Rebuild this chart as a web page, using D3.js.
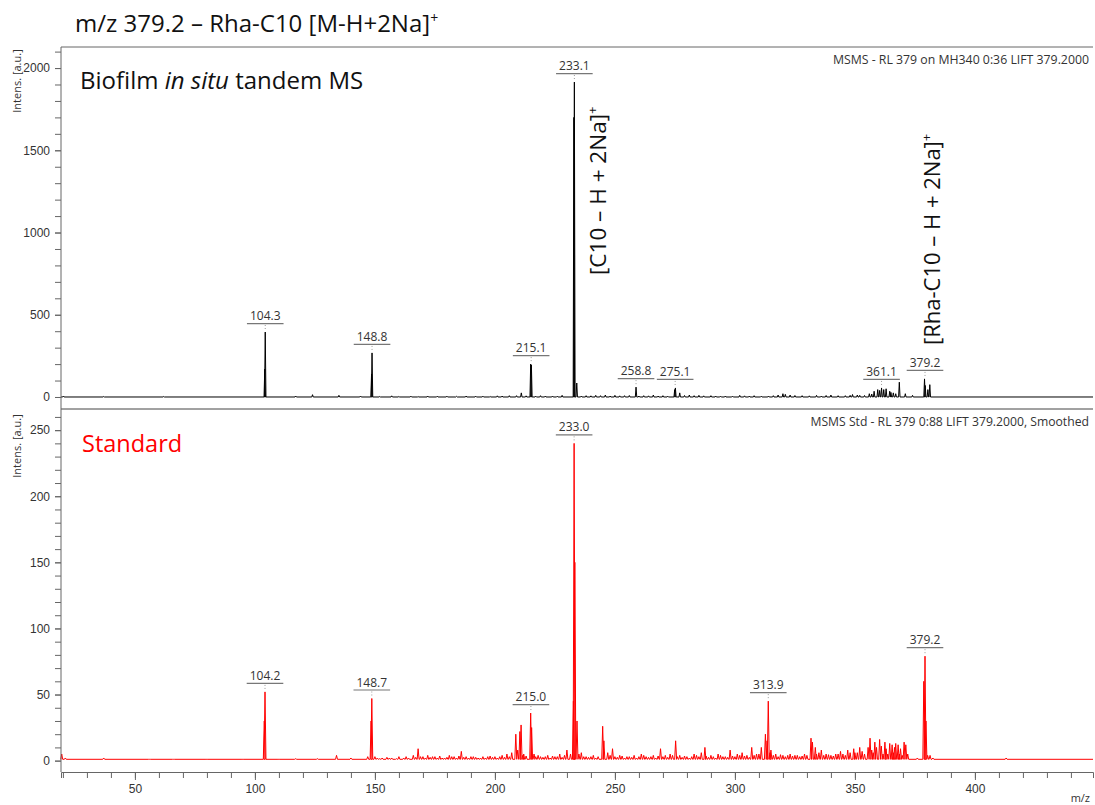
<!DOCTYPE html>
<html>
<head>
<meta charset="utf-8">
<script src="https://cdn.jsdelivr.net/npm/d3@7"></script>
<style>
  body { margin: 0; background: #fff; }
  svg { display: block; font-family: "Open Sans", sans-serif; }
</style>
</head>
<body>
<svg id="chart" width="1095" height="805"></svg>
<script>
// biofilm spectrum: peak m/z and intensity (a.u.)
var biofilmMz = [20.2, 37, 62, 104.1, 104.3, 117, 124, 135, 144, 148.6, 148.8, 157, 165, 172, 180, 188, 195, 201, 206, 209, 211,
  214.9, 215.2, 219, 224, 228, 232.9, 233.1, 234.1, 238, 242, 246, 250, 254, 258.8, 262, 266, 270, 274.9, 275.2, 277, 281, 285,
  290, 296, 302, 308, 314, 320, 323, 328, 334, 340, 346, 349, 352, 356, 358, 359.5, 360.3, 361.1, 362, 363, 364.5, 366, 368.5,
  371, 374, 379.0, 379.3, 380.4, 381.2]
var biofilmInt = [6, 3, 3, 170, 395, 6, 14, 10, 6, 140, 268, 7, 5, 6, 5, 6, 5, 7, 8, 8, 25,
  200, 195, 8, 6, 10, 1700, 1915, 85, 8, 10, 12, 10, 8, 60, 8, 12, 8, 45, 55, 25, 12, 10,
  8, 6, 10, 8, 6, 20, 12, 8, 10, 12, 8, 15, 10, 20, 35, 45, 40, 55, 45, 50, 35, 25, 90,
  20, 10, 110, 70, 45, 75]
// small baseline wiggles of the biofilm trace
var biofilmNoiseMz = [152, 160, 168, 176, 184, 192, 198, 203, 213, 217, 221, 226, 236, 240, 244, 248, 252, 256, 260, 264,
  268, 272, 279, 283, 287, 292, 294, 299, 304, 306, 311, 316, 318, 321, 325, 331, 336, 338, 343, 348, 351, 354, 357, 365, 367]
var biofilmNoiseInt = [3, 4, 3, 5, 4, 5, 4, 6, 7, 5, 6, 5, 6, 7, 8, 6, 7, 9, 6, 7,
  6, 5, 9, 8, 7, 6, 5, 5, 7, 6, 5, 8, 12, 16, 9, 7, 6, 9, 8, 10, 12, 9, 18, 28, 20]

// standard spectrum
var standardMz = [19.5, 21, 37, 56, 66, 80, 95, 103.9, 104.2, 110, 117, 126, 134, 140, 147, 148.4, 148.7, 150, 153, 157, 160,
  164, 166, 168, 170, 172, 175, 178, 181, 183, 186, 188, 191, 194, 197, 200, 203, 205, 207, 208.7, 209.5, 210.4, 210.9, 212,
  214.9, 215.3, 216.3, 219, 222, 225, 227, 230, 231.5, 232.7, 233.0, 233.3, 234.2, 235, 238, 241, 243, 244.9, 245.4, 247, 249,
  252, 255, 258, 261, 263, 266, 269, 271, 273, 275.3, 277, 280, 283, 286, 287.5, 290, 293, 295, 298, 301, 303, 305, 307, 309,
  311, 312.7, 313.4, 313.9, 315, 317, 320, 323, 326, 329, 331.7, 332.3, 333.5, 335, 336, 338, 340, 342, 344, 345, 347, 348,
  349.5, 351, 352, 353, 355.5, 356.3, 357, 358.3, 359, 360.3, 361, 362.5, 363, 364.5, 365.5, 366.5, 367, 368, 369, 370.5,
  371.2, 372, 376, 378.7, 379.2, 379.6, 380.3, 381.3, 382.5, 413]
var standardInt = [5, 2, 2, 1, 1, 1, 1, 30, 52, 1, 1.5, 1.5, 4, 2, 3, 30, 47, 3, 2, 2, 3,
  2, 4, 9, 3, 4, 3, 2, 4, 3, 7, 3, 3, 2, 3, 3, 4, 5, 6, 20, 8, 22, 27, 5,
  36, 25, 5, 3, 4, 3, 5, 8, 5, 45, 240, 150, 30, 5, 3, 4, 3, 26, 15, 6, 9,
  4, 3, 4, 5, 3, 4, 9, 4, 5, 15, 4, 3, 5, 6, 10, 4, 5, 3, 8, 5, 6, 4, 10, 5,
  10, 20, 15, 45, 8, 5, 4, 5, 4, 5, 17, 14, 10, 6, 8, 5, 4, 5, 7, 5, 8, 6,
  9, 6, 10, 7, 10, 17, 8, 14, 10, 16, 11, 14, 9, 13, 12, 10, 13, 12, 9, 14,
  12, 5, 2, 60, 79, 30, 4, 4, 2, 2]
// noise floor of the standard trace
var standardNoiseMz = [151, 152, 155, 156, 159, 162, 163, 167, 169, 171, 173, 174, 176, 177, 179, 180, 182, 184, 185, 187,
  189, 190, 192, 193, 195, 196, 198, 199, 201, 202, 204, 206, 211.6, 213, 217, 218, 220, 221, 223, 224, 226, 228, 229, 236,
  237, 239, 240, 242, 248, 250, 251, 253, 254, 256, 257, 259, 260, 262, 264, 265, 267, 268, 270, 272, 274, 276, 278, 279,
  281, 282, 284, 285, 288, 289, 291, 292, 294, 296, 297, 299, 300, 302, 304, 306, 308, 310, 314.6, 316, 318, 319, 321, 322,
  324, 325, 327, 328, 330, 334, 337, 339, 341, 343, 346, 350, 354, 357.6, 361.7, 363.7, 366, 368.5, 369.7]
var standardNoiseInt = [2, 1.5, 2.5, 2, 1.5, 2, 3, 2.5, 3, 2, 2.5, 3, 2, 3.5, 2, 2.5, 3, 2, 3.5, 2.5,
  2, 3, 2.5, 2, 3, 2, 3.5, 2.5, 2, 3, 2.5, 3, 4, 3.5, 3, 4, 2.5, 3, 2, 3.5, 3, 2.5, 4, 6,
  3, 2.5, 3, 2, 4, 3, 2.5, 3.5, 2, 3, 2.5, 2, 3, 4, 2.5, 3, 2, 3.5, 3, 2.5, 4, 3, 2.5, 3.5,
  2, 3, 4, 3, 3.5, 2.5, 3, 2, 4, 3, 2.5, 3.5, 3, 4, 3.5, 2.5, 4, 5, 6, 4, 3, 4.5, 3, 4,
  3.5, 4, 3, 3.5, 4, 5, 4, 4.5, 3.5, 5, 4, 6, 5, 6, 5, 5, 6, 5, 4]

var biofilmLabels = [104.3, 148.8, 215.1, 233.1, 258.8, 275.1, 361.1, 379.2]
var standardLabels = [104.2, 148.7, 215.0, 233.0, 313.9, 379.2]

var biofilmTicks = [0, 500, 1000, 1500, 2000]
var standardTicks = [0, 50, 100, 150, 200, 250]
var mzTicks = [50, 100, 150, 200, 250, 300, 350, 400]

var svg = d3.select("#chart")
var left = 61, right = 1093

var x = d3.scaleLinear().domain([19.2, 449.2]).range([left, right])
var yTop = d3.scaleLinear().domain([-73, 2128]).range([409, 47])
var yBot = d3.scaleLinear().domain([-8.6, 266]).range([772, 409])

var axisColor = "#666", textColor = "#333"

// turn stick lists into a thin peak profile
var profile = function(mz, ints, base, w){
  var pts = []
  mz.forEach(function(m, i){
    pts.push({m: m, h: ints[i]})
  })
  pts.sort(function(a, b){ return a.m - b.m })
  var out = [[19.2, base]]
  pts.forEach(function(p){
    out.push([p.m - w, base], [p.m, p.h], [p.m + w, base])
  })
  out.push([449.2, base])
  return out
}

var drawPanel = function(y, mz, ints, base, w, color, majors, minorStep, maxTick){
  var minors = d3.range(0, maxTick + 1, minorStep)
  svg.append("g")
    .attr("transform", "translate(" + left + ",0)")
    .call(d3.axisLeft(y).tickValues(minors).tickSize(6).tickFormat(""))
    .call(function(g){ g.select(".domain").remove() })
    .selectAll("line").attr("stroke", axisColor)
  svg.append("g")
    .attr("transform", "translate(" + left + ",0)")
    .call(d3.axisLeft(y).tickValues(majors).tickSize(6).tickPadding(5).tickFormat(d3.format("d")))
    .call(function(g){
      g.select(".domain").remove()
      g.selectAll("line").attr("stroke", axisColor)
      g.selectAll("text").attr("fill", textColor).style("font-size", "12px")
    })

  var line = d3.line().x(function(d){ return x(d[0]) }).y(function(d){ return y(d[1]) })
  svg.append("path")
    .datum(profile(mz, ints, base, w))
    .attr("d", line)
    .attr("fill", "none")
    .attr("stroke", color)
    .attr("stroke-width", 1)
    .attr("stroke-linejoin", "round")
}

var drawLabels = function(y, mz, ints, labels){
  labels.forEach(function(v){
    var h = d3.max(mz.map(function(m, i){ return Math.abs(m - v) < 0.7 ? ints[i] : 0 }))
    var top = y(h)
    var g = svg.append("g")
    var t = g.append("text")
      .attr("x", x(v))
      .attr("y", top - 12)
      .attr("text-anchor", "middle")
      .attr("fill", textColor)
      .style("font-size", "12px")
      .text(v.toFixed(1))
    var tw = t.node().getComputedTextLength()
    g.append("line")
      .attr("x1", x(v) - tw / 2 - 3).attr("x2", x(v) + tw / 2 + 3)
      .attr("y1", top - 8.5).attr("y2", top - 8.5)
      .attr("stroke", "#777").attr("stroke-width", 1.2)
    g.append("line")
      .attr("x1", x(v)).attr("x2", x(v))
      .attr("y1", top - 7).attr("y2", top - 1)
      .attr("stroke", "#999").attr("stroke-dasharray", "1,2")
  })
}

drawPanel(yTop, biofilmMz.concat(biofilmNoiseMz), biofilmInt.concat(biofilmNoiseInt), 0, 0.3, "#000", biofilmTicks, 100, 2100)
drawPanel(yBot, standardMz.concat(standardNoiseMz), standardInt.concat(standardNoiseInt), 1, 0.4, "#ff0000", standardTicks, 10, 260)
drawLabels(yTop, biofilmMz, biofilmInt, biofilmLabels)
drawLabels(yBot, standardMz, standardInt, standardLabels)

// frames
svg.append("line").attr("x1", left).attr("x2", right).attr("y1", 47).attr("y2", 47).attr("stroke", axisColor)
svg.append("line").attr("x1", left).attr("x2", right).attr("y1", 409).attr("y2", 409).attr("stroke", "#444")
svg.append("line").attr("x1", left).attr("x2", left).attr("y1", 47).attr("y2", 772).attr("stroke", axisColor)

// x axis
svg.append("g")
  .attr("transform", "translate(0,772)")
  .call(d3.axisBottom(x).tickValues(d3.range(20, 450, 10)).tickSize(6).tickFormat(""))
  .call(function(g){ g.select(".domain").attr("stroke", axisColor); g.selectAll("line").attr("stroke", axisColor) })
svg.append("g")
  .attr("transform", "translate(0,772)")
  .call(d3.axisBottom(x).tickValues(mzTicks).tickSize(8).tickPadding(4))
  .call(function(g){
    g.select(".domain").remove()
    g.selectAll("line").attr("stroke", axisColor)
    g.selectAll("text").attr("fill", textColor).style("font-size", "12px")
  })
svg.append("text").attr("x", 1090).attr("y", 802).attr("text-anchor", "end")
  .attr("fill", textColor).style("font-size", "11px").text("m/z")

// y axis titles
;[81, 446].forEach(function(cy){
  svg.append("text")
    .attr("transform", "translate(21," + cy + ") rotate(-90)")
    .attr("text-anchor", "middle")
    .attr("fill", textColor).style("font-size", "11px")
    .text("Intens. [a.u.]")
})

// title
var title = svg.append("text").attr("x", 75).attr("y", 32).attr("fill", "#111").style("font-size", "24px")
title.append("tspan").text("m/z 379.2 \u2013 Rha-C10 [M-H+2Na]")
title.append("tspan").attr("dy", -9).style("font-size", "14px").text("+")

// acquisition notes
svg.append("text").attr("x", 1089).attr("y", 64).attr("text-anchor", "end")
  .attr("fill", textColor).style("font-size", "12.3px").text("MSMS - RL 379 on MH340 0:36 LIFT 379.2000")
svg.append("text").attr("x", 1089).attr("y", 426).attr("text-anchor", "end")
  .attr("fill", textColor).style("font-size", "12.2px").text("MSMS Std - RL 379 0:88 LIFT 379.2000, Smoothed")

// panel names
var bio = svg.append("text").attr("x", 80).attr("y", 89).attr("fill", "#111").style("font-size", "24px")
bio.append("tspan").text("Biofilm ")
bio.append("tspan").style("font-style", "italic").text("in situ")
bio.append("tspan").text(" tandem MS")
svg.append("text").attr("x", 82).attr("y", 452).attr("fill", "#ff0000").style("font-size", "23.5px").text("Standard")

// ion annotations
var ion = function(px, py, size, label){
  var t = svg.append("text")
    .attr("transform", "translate(" + px + "," + py + ") rotate(-90)")
    .attr("fill", "#111").style("font-size", size + "px")
  t.append("tspan").text(label)
  t.append("tspan").attr("dy", -9).style("font-size", "13px").text("+")
}
ion(x(233.1) + 32, 275, 22.5, "[C10 \u2013 H + 2Na]")
ion(x(379.2) + 15, 345, 22, "[Rha-C10 \u2013 H + 2Na]")
</script>
</body>
</html>
